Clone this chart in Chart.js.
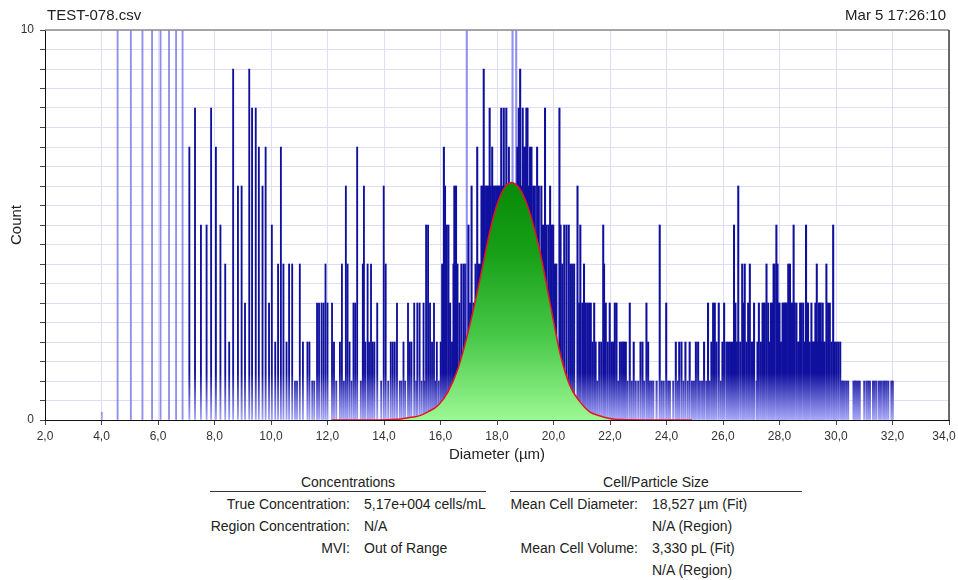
<!DOCTYPE html>
<html>
<head>
<meta charset="utf-8">
<script src="https://cdn.jsdelivr.net/npm/chart.js@4.4.1/dist/chart.umd.min.js"></script>
<style>
    body { margin: 0; background: #fff; font-family: "Liberation Sans", Arial, sans-serif; color: #222; }
    #wrap { position: relative; width: 958px; height: 580px; overflow: hidden; }
    #box { position: absolute; left: 0; top: 0; width: 958px; height: 470px; }
    .txt { position: absolute; white-space: nowrap; font-size: 14px; line-height: 16px; }
    .head { font-size: 15px; line-height: 18px; color: #222; }
    .rule { position: absolute; height: 1px; background: #333; }
</style>
</head>
<body>
<div id="wrap">
    <div id="box"><canvas id="histChart"></canvas></div>
</div>
<script>
const fileName = 'TEST-078.csv';
const stamp = 'Mar 5 17:26:10';

// bins, sparse part (4 - 16 µm)
const diamLow = [4.01, 4.57, 5.04, 5.45, 5.79, 6.09, 6.39, 6.64, 6.87, 7.11, 7.31, 7.52, 7.72, 7.88, 8.05, 8.21, 8.38, 8.52, 8.66, 8.83, 8.96,
    9.08, 9.23, 9.33, 9.46, 9.57, 9.70, 9.81, 9.93, 10.03, 10.15, 10.25, 10.35, 10.44, 10.55, 10.64, 10.75, 10.85, 10.92, 11.02, 11.13,
    11.29, 11.36, 11.46, 11.53, 11.63, 11.70, 11.79, 11.86, 11.93, 12.00, 12.16, 12.23, 12.31, 12.44, 12.51, 12.58, 12.65, 12.71, 12.78, 12.85,
    12.92, 12.98, 13.05, 13.18, 13.25, 13.29, 13.34, 13.42, 13.47, 13.54, 13.60, 13.66, 13.76, 13.90, 13.99, 14.06, 14.15,
    14.24, 14.31, 14.38, 14.46, 14.56, 14.62, 14.69, 14.75, 14.85, 14.91, 14.97, 15.07, 15.14, 15.18, 15.26, 15.33, 15.40, 15.44, 15.49, 15.56,
    15.63, 15.70, 15.77, 15.82, 15.87, 15.94];
const countLow = [0.2, 11, 11, 11, 11, 11, 11, 11, 11, 7, 8, 5, 5, 8, 7, 5, 4, 2, 9, 6, 6,
    3, 9, 8, 8, 7, 6, 7, 3, 5, 2, 4, 7, 4, 2, 4, 4, 1, 1, 4, 2,
    2, 2, 1, 1, 3, 3, 3, 3, 4, 3, 3, 2, 1, 2, 4, 1, 6, 4, 2, 1,
    3, 3, 7, 1, 4, 6, 2, 4, 2, 4, 2, 2, 3, 1, 6, 4, 1,
    2, 2, 2, 3, 1, 1, 2, 1, 3, 2, 2, 3, 1, 3, 3, 1, 3, 1, 5, 5,
    3, 2, 3, 1, 2, 1];

// dense part (16 - 32 µm)
const diamHigh = [16.01, 16.06, 16.12, 16.16, 16.22, 16.28, 16.34, 16.41, 16.46, 16.49, 16.55, 16.60, 16.67, 16.74, 16.82, 16.88, 16.93, 16.99, 17.05, 17.10,
    17.17, 17.24, 17.30, 17.33, 17.40, 17.45, 17.50, 17.53, 17.57, 17.62, 17.66, 17.71, 17.74, 17.78, 17.83, 17.87, 17.92, 17.97, 18.02, 18.06,
    18.10, 18.15, 18.19, 18.24, 18.29, 18.33, 18.38, 18.42, 18.48, 18.55, 18.62, 18.68, 18.72, 18.77, 18.82, 18.87, 18.91, 18.96, 19.00, 19.04,
    19.08, 19.13, 19.17, 19.22, 19.28, 19.34, 19.42, 19.48, 19.57, 19.63, 19.70, 19.75, 19.82, 19.88, 19.94, 19.99, 20.05, 20.10, 20.21, 20.25,
    20.31, 20.38, 20.46, 20.54, 20.60, 20.66, 20.73, 20.85, 20.91, 20.95, 21.02, 21.08, 21.14, 21.20, 21.26, 21.32, 21.38, 21.44, 21.49, 21.55,
    21.62, 21.69, 21.76, 21.79, 21.85, 21.92, 21.99, 22.05, 22.11, 22.17, 22.23, 22.29, 22.35, 22.42, 22.47, 22.51, 22.56, 22.62, 22.70, 22.77,
    22.84, 22.91, 23.00, 23.08, 23.15, 23.21, 23.29, 23.35, 23.41, 23.47, 23.53, 23.65, 23.76, 23.83, 23.90, 23.99, 24.06, 24.12, 24.24, 24.33,
    24.40, 24.45, 24.53, 24.60, 24.67, 24.75, 24.82, 24.90, 24.97, 25.04, 25.12, 25.18, 25.26, 25.33, 25.41, 25.47, 25.53, 25.59, 25.65, 25.71,
    25.77, 25.85, 25.92, 25.98, 26.04, 26.12, 26.18, 26.25, 26.32, 26.39, 26.44, 26.49, 26.54, 26.61, 26.68, 26.72, 26.77, 26.83, 26.89, 26.95,
    27.01, 27.06, 27.10, 27.19, 27.22, 27.27, 27.34, 27.40, 27.44, 27.48, 27.54, 27.60, 27.66, 27.70, 27.74, 27.79, 27.83, 27.89, 27.93, 27.96,
    28.00, 28.05, 28.11, 28.15, 28.19, 28.22, 28.26, 28.31, 28.37, 28.42, 28.46, 28.50, 28.54, 28.60, 28.66, 28.69, 28.73, 28.78, 28.84, 28.90,
    28.94, 28.98, 29.01, 29.07, 29.13, 29.17, 29.20, 29.24, 29.27, 29.32, 29.36, 29.39, 29.43, 29.46, 29.50, 29.53, 29.57, 29.60, 29.66, 29.72,
    29.78, 29.84, 29.90, 29.96, 30.02, 30.08, 30.15, 30.21, 30.25, 30.31, 30.37, 30.43, 30.62, 30.67, 30.72, 30.78, 30.84, 31.00, 31.08, 31.14,
    31.20, 31.31, 31.37, 31.43, 31.52, 31.59, 31.67, 31.73, 31.79, 31.85, 31.96, 32.01];
const countHigh = [2, 4, 7, 6, 5, 5, 3, 2, 4, 6, 6, 4, 3, 4, 4, 4, 11, 5, 3, 6,
    3, 4, 7, 4, 4, 6, 6, 9, 6, 6, 6, 6, 8, 6, 7, 6, 6, 6, 6, 6,
    6, 8, 6, 8, 6, 8, 6, 7, 6, 11, 6, 11, 7, 8, 9, 6, 8, 7, 7, 8,
    8, 6, 7, 7, 6, 6, 7, 6, 6, 5, 8, 5, 5, 6, 5, 5, 4, 4, 8, 5,
    4, 5, 5, 5, 4, 4, 4, 6, 3, 5, 3, 4, 3, 3, 3, 3, 2, 3, 2, 1,
    2, 2, 5, 4, 3, 2, 3, 2, 2, 3, 3, 1, 2, 2, 2, 2, 2, 1, 3, 1,
    2, 1, 1, 2, 2, 1, 3, 2, 1, 1, 1, 1, 5, 1, 1, 3, 1, 1, 1, 2,
    1, 2, 2, 1, 2, 1, 2, 1, 1, 2, 2, 1, 1, 2, 1, 3, 1, 2, 3, 3,
    2, 3, 1, 2, 3, 2, 2, 2, 2, 5, 3, 2, 6, 2, 4, 3, 4, 2, 3, 4,
    2, 2, 3, 1, 2, 3, 2, 3, 3, 3, 4, 3, 2, 3, 3, 4, 4, 5, 4, 3,
    3, 2, 3, 3, 3, 3, 3, 4, 4, 3, 3, 5, 3, 3, 2, 2, 3, 3, 3, 2,
    5, 3, 3, 2, 3, 2, 2, 2, 3, 4, 2, 3, 3, 3, 2, 3, 2, 2, 4, 3,
    3, 2, 5, 2, 2, 2, 2, 1, 1, 1, 1, 1, 1, 1, 1, 1, 1, 1, 1, 1,
    1, 1, 1, 1, 1, 1, 1, 1, 1, 1, 1, 1];

// fitted curve
const fitDiam = [12.14, 13.5, 14.5, 14.86, 15.21, 15.56, 15.92, 16.27, 16.62, 16.98, 17.33, 17.57, 17.80, 18.04, 18.28, 18.51, 18.75, 18.98, 19.22, 19.52,
    19.87, 20.22, 20.57, 20.93, 21.28, 21.63, 21.98, 22.4, 23.2, 24.9];
const fitCount = [0, 0, 0.02, 0.06, 0.10, 0.21, 0.38, 0.73, 1.32, 2.26, 3.38, 4.23, 5.00, 5.60, 5.97, 6.09, 5.98, 5.68, 5.17, 4.32,
    3.03, 1.75, 0.90, 0.47, 0.21, 0.11, 0.04, 0.01, 0, 0];

const xMin = 2, xMax = 34, xStep = 2;
const yMin = 0, yMax = 10, yStep = 0.5;
const yLabels = [0, 10];

const concLabels = ['True Concentration:', 'Region Concentration:', 'MVI:'];
const concValues = ['5,17e+004 cells/mL', 'N/A', 'Out of Range'];
const sizeLabels = ['Mean Cell Diameter:', '', 'Mean Cell Volume:', ''];
const sizeValues = ['18,527 µm (Fit)', 'N/A (Region)', '3,330 pL (Fit)', 'N/A (Region)'];

const wrap = document.getElementById('wrap');

function addText(text, css, cls) {
    const el = document.createElement('div');
    el.className = cls || 'txt';
    el.textContent = text;
    Object.assign(el.style, css);
    wrap.appendChild(el);
    return el;
}

// header texts
addText(fileName, { left: '47px', top: '6px' }, 'txt head');
addText(stamp, { right: '12px', top: '6px' }, 'txt head');

// results tables
addText('Concentrations', { left: '210px', width: '276px', top: '474px', textAlign: 'center' });
addText('Cell/Particle Size', { left: '510px', width: '292px', top: '474px', textAlign: 'center' });
addText('', { left: '210px', width: '276px', top: '491px' }, 'rule');
addText('', { left: '510px', width: '292px', top: '491px' }, 'rule');
concLabels.forEach((lab, i) => {
    addText(lab, { right: '608px', top: (496 + i * 22) + 'px', textAlign: 'right' });
    addText(concValues[i], { left: '364px', top: (496 + i * 22) + 'px' });
});
sizeLabels.forEach((lab, i) => {
    if (lab) addText(lab, { right: '320px', top: (496 + i * 22) + 'px', textAlign: 'right' });
    addText(sizeValues[i], { left: '652px', top: (496 + i * 22) + 'px' });
});

const toPoints = (xs, ys) => xs.map((x, i) => ({ x: x, y: ys[i] }));

// bars get darker above ~1 count, clipped ones are pale
function barFill(c) {
    const chart = c.chart;
    if (!chart.chartArea || !chart.scales.y) return '#1010a0';
    if (c.raw && c.raw.y > yMax) return 'rgba(96, 96, 232, 0.7)';
    const y = chart.scales.y;
    const g = chart.ctx.createLinearGradient(0, y.getPixelForValue(1.2), 0, y.getPixelForValue(0));
    g.addColorStop(0, '#10109e');
    g.addColorStop(1, '#a8a8fa');
    return g;
}

function greenFill(c) {
    const chart = c.chart;
    if (!chart.chartArea || !chart.scales.y) return '#30b030';
    const y = chart.scales.y;
    const g = chart.ctx.createLinearGradient(0, y.getPixelForValue(6.1), 0, y.getPixelForValue(0));
    g.addColorStop(0, '#078a07');
    g.addColorStop(0.3, '#18a018');
    g.addColorStop(0.65, '#48c848');
    g.addColorStop(1, '#9cf894');
    return g;
}

// grey top edge and dark right edge of the plot
const frame = {
    id: 'frame',
    beforeDraw(chart) {
        // keep the last x label inside the window, like the original
        const items = chart.scales.x.getLabelItems();
        const last = items[items.length - 1];
        if (last && !last.moved) {
            last.options.translation[0] -= 5;
            last.moved = true;
        }
    },
    afterDatasetsDraw(chart) {
        const { ctx, chartArea: a } = chart;
        ctx.save();
        ctx.lineWidth = 1.5;
        ctx.strokeStyle = '#8c8c8c';
        ctx.beginPath();
        ctx.moveTo(a.left, a.top);
        ctx.lineTo(a.right, a.top);
        ctx.stroke();
        ctx.strokeStyle = '#3c3c3c';
        ctx.beginPath();
        ctx.moveTo(a.right, a.top);
        ctx.lineTo(a.right, a.bottom);
        ctx.stroke();
        ctx.restore();
    }
};

const gridColor = 'rgb(222, 222, 250)';
const tickFont = { family: '"Liberation Sans", Arial, sans-serif', size: 12 };
const titleFont = { family: '"Liberation Sans", Arial, sans-serif', size: 15 };

new Chart(document.getElementById('histChart'), {
    type: 'bar',
    data: {
        datasets: [
            {
                type: 'line',
                label: 'Fit',
                data: toPoints(fitDiam, fitCount),
                borderColor: '#e8141e',
                borderWidth: 1.5,
                pointRadius: 0,
                fill: 'origin',
                backgroundColor: greenFill,
                cubicInterpolationMode: 'monotone',
                order: 0
            },
            {
                label: 'Count',
                data: toPoints(diamLow, countLow),
                backgroundColor: barFill,
                borderWidth: 0,
                barThickness: 1.2,
                stack: 'h',
                order: 1
            },
            {
                label: 'Count',
                data: toPoints(diamHigh, countHigh),
                backgroundColor: barFill,
                borderWidth: 0,
                barThickness: 1.4,
                stack: 'h',
                order: 1
            }
        ]
    },
    options: {
        responsive: true,
        maintainAspectRatio: false,
        animation: false,
        events: [],
        layout: { padding: { left: 0, right: 9, top: 30, bottom: 0 } },
        plugins: {
            legend: { display: false },
            tooltip: { enabled: false },
            title: { display: false }
        },
        scales: {
            x: {
                type: 'linear',
                min: xMin,
                max: xMax,
                offset: false,
                grid: { offset: false, color: gridColor, tickColor: '#444', tickLength: 5 },
                border: { color: '#111', width: 1 },
                ticks: {
                    stepSize: xStep,
                    autoSkip: false,
                    maxRotation: 0,
                    padding: 4,
                    color: '#333',
                    font: tickFont,
                    callback: v => v.toFixed(1).replace('.', ',')
                },
                title: {
                    display: true,
                    text: 'Diameter (µm)',
                    color: '#222',
                    font: titleFont,
                    padding: { top: 0, bottom: 6 }
                },
                afterFit(scale) {
                    scale.height = 50;
                    scale.paddingLeft = 0;
                    scale.paddingRight = 0;
                }
            },
            y: {
                min: yMin,
                max: yMax,
                stacked: false,
                grid: { color: gridColor, tickColor: '#444', tickLength: 5 },
                border: { color: '#111', width: 1 },
                ticks: {
                    stepSize: yStep,
                    autoSkip: false,
                    padding: 6,
                    color: '#333',
                    font: tickFont,
                    callback: v => yLabels.includes(v) ? String(v) : ''
                },
                title: {
                    display: true,
                    text: 'Count',
                    color: '#222',
                    font: titleFont,
                    padding: { top: 8, bottom: 0 }
                },
                afterFit(scale) {
                    scale.width = 45;
                    scale.paddingTop = 0;
                    scale.paddingBottom = 0;
                }
            }
        }
    },
    plugins: [frame]
});
</script>
</body>
</html>
